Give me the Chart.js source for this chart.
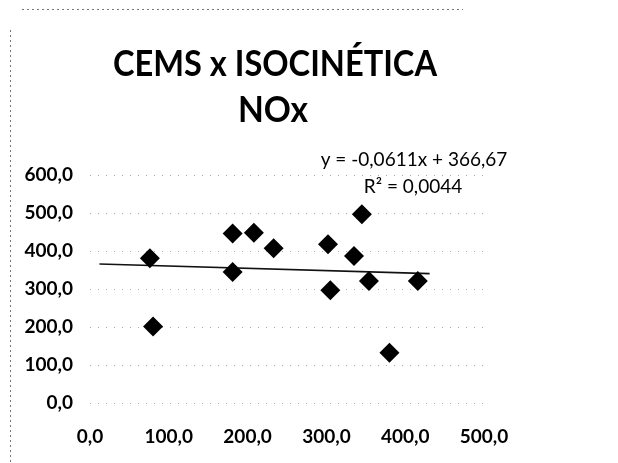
<!DOCTYPE html>
<html>
<head>
<meta charset="utf-8">
<script src="https://cdn.jsdelivr.net/npm/chart.js@4.4.0/dist/chart.umd.min.js"></script>
<style>
  html, body { margin: 0; padding: 0; background: #fff; }
  #wrap { width: 618px; height: 463px; position: relative; }
</style>
</head>
<body>
<div id="wrap"><canvas id="grafico"></canvas></div>
<script>

// CEMS (x) vs isocinetica (y), NOx
const cems = [76, 80, 181, 181, 208, 233, 302, 305, 335, 345, 354, 380, 416]
const isocinetica = [381, 201, 446, 345, 448, 407, 418, 297, 387, 497, 321, 132, 321]

// linear trendline as reported by the spreadsheet
const pendiente = -0.0611
const intercepto = 366.67
const tendenciaX = [12, 431]

const yTicks = [0, 100, 200, 300, 400, 500, 600]
const xTicks = [0, 100, 200, 300, 400, 500]

const titulo = ['CEMS x ISOCINÉTICA', 'NOx']
const ecuacion = ['y = -0,0611x + 366,67', 'R² = 0,0044']

const fmt = v => v.toFixed(1).replace('.', ',')

const FUENTE = 'Lato, "Open Sans", sans-serif'

/*=============================================
TITULO, ECUACION Y BORDE
=============================================*/

const extras = {
    id: 'extras',
    afterDraw: (chart)=>{
        let ctx = chart.ctx
        let area = chart.chartArea
        ctx.save()

        // dotted frame left over from the sheet
        ctx.strokeStyle = '#777'
        ctx.lineWidth = 1
        ctx.setLineDash([2, 3])
        ctx.beginPath()
        ctx.moveTo(22, 9.5)
        ctx.lineTo(463, 9.5)
        ctx.moveTo(10.5, 30)
        ctx.lineTo(10.5, 463)
        ctx.stroke()
        ctx.setLineDash([])

        ctx.fillStyle = '#000'
        ctx.textAlign = 'center'
        ctx.textBaseline = 'middle'
        ctx.font = 'bold 36px ' + FUENTE
        ctx.fillText(titulo[0], 275, 64, 324)
        ctx.fillText(titulo[1], 273, 110, 70)

        ctx.font = '19px ' + FUENTE
        ctx.fillText(ecuacion[0], area.left + 324, 160, 188)
        ctx.fillText(ecuacion[1], area.left + 323, 187)
        ctx.restore()
    }
}

let config = {
    type: 'scatter',
    data: {
        datasets: [{
            label: 'NOx',
            data: cems.map((x, i)=>({x: x, y: isocinetica[i]})),
            pointStyle: 'rectRot',
            pointRadius: 10,
            backgroundColor: '#000',
            borderColor: '#000',
            borderWidth: 0,
            order: 1
        }, {
            label: 'Tendencia',
            type: 'line',
            data: tendenciaX.map(x=>({x: x, y: pendiente * x + intercepto})),
            borderColor: '#111',
            borderWidth: 1.6,
            pointRadius: 0,
            fill: false,
            order: 2
        }]
    },
    options: {
        responsive: true,
        maintainAspectRatio: false,
        animation: false,
        layout: {
            padding: {top: 175, left: 10, right: 134, bottom: 0}
        },
        plugins: {
            legend: {display: false},
            title: {display: false},
            tooltip: {enabled: false}
        },
        scales: {
            x: {
                type: 'linear',
                min: 0,
                max: 500,
                afterBuildTicks: (axis)=>{ axis.ticks = xTicks.map(v=>({value: v})) },
                afterFit: (axis)=>{ axis.height = 60 },
                grid: {display: false, drawTicks: false},
                border: {display: false},
                ticks: {
                    padding: 22,
                    color: '#000',
                    font: {family: FUENTE, size: 19, weight: 'bold'},
                    callback: v=>fmt(v)
                }
            },
            y: {
                min: 0,
                max: 600,
                afterBuildTicks: (axis)=>{ axis.ticks = yTicks.map(v=>({value: v})) },
                afterFit: (axis)=>{ axis.width = 80 },
                grid: {
                    drawTicks: false,
                    color: '#aaa',
                    lineWidth: 1
                },
                border: {display: false, dash: [1, 7]},
                ticks: {
                    padding: 17,
                    color: '#000',
                    font: {family: FUENTE, size: 19, weight: 'bold'},
                    callback: v=>fmt(v)
                }
            }
        }
    },
    plugins: [extras]
}

let ctx = document.getElementById('grafico').getContext('2d')
window.grafico = new Chart(ctx, config)

</script>
</body>
</html>
